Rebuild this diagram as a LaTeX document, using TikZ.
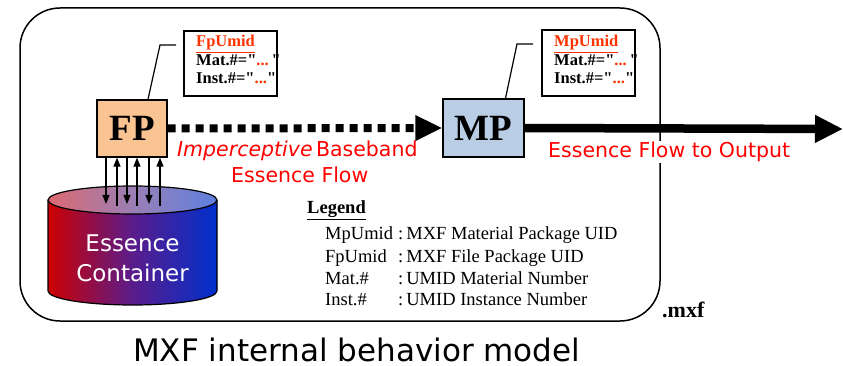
\documentclass[tikz,border=0pt]{standalone}
\usepackage{fontspec}
\setmainfont{Liberation Serif}[Ligatures=TeXOff]
\newfontfamily\labsans{DejaVu Sans}
\usetikzlibrary{arrows.meta}
\definecolor{fpfill}{HTML}{F9C392}
\definecolor{mpfill}{HTML}{B9CDE5}
\definecolor{lblred}{HTML}{FF0000}
\definecolor{umred}{HTML}{FF3300}
\definecolor{cylred}{HTML}{CC0000}
\definecolor{cylmid}{HTML}{5A1C8C}
\definecolor{cylblue}{HTML}{0030CC}
\definecolor{topred}{HTML}{DD6A72}
\definecolor{topmid}{HTML}{9A7FB5}
\definecolor{topblue}{HTML}{5F80E0}
\tikzset{
  pkg/.style={draw, line width=1.3pt, minimum width=#1, inner sep=0pt, font=\fontsize{37}{37}\bfseries},
  umid/.style={draw, line width=1.2pt, inner sep=0pt},
  umtext/.style={anchor=base west, inner sep=0pt, font=\fontsize{16.5}{18}\bfseries},
  redlbl/.style={anchor=base west, inner sep=1pt, text=lblred, font=\labsans\fontsize{20.5}{24}\selectfont},
  legtext/.style={anchor=base west, inner sep=0pt, font=\fontsize{18.5}{20}\selectfont},
  callout/.style={line width=1.2pt},
  io/.style={line width=1.2pt, -{Triangle[length=9pt,width=7pt]}},
}
\begin{document}
\begin{tikzpicture}[x=1pt,y=-1pt]
\useasboundingbox (0,0) rectangle (843,366);
% outer .mxf container
\draw[line width=1.5pt, rounded corners=40pt] (20,8) rectangle (660,321);

% FP and MP
\node[pkg=70pt, minimum height=57pt, fill=fpfill] (fp) at (132,128.5) {FP};
\node[pkg=81pt, minimum height=58pt, fill=mpfill] (mp) at (483.5,128) {MP};

% umid boxes
\node[umid, minimum width=93pt, minimum height=65pt] (fpu) at (230.5,63.5) {};
\node[umtext] (fpu1) at (196,47) {\textcolor{umred}{\underline{FpUmid}}};
\node[umtext] (fpu2) at (196,66) {Mat.\#="\textcolor{umred}{...}\,"};
\node[umtext] (fpu3) at (196,84) {Inst.\#="\textcolor{umred}{...}"};
\node[umid, minimum width=93pt, minimum height=66pt] (mpu) at (588.5,63) {};
\node[umtext] (mpu1) at (554,47) {\textcolor{umred}{\underline{MpUmid}}};
\node[umtext] (mpu2) at (554,66) {Mat.\#="\textcolor{umred}{...}\,"};
\node[umtext] (mpu3) at (554,84) {Inst.\#="\textcolor{umred}{...}"};

% callouts
\coordinate (fpc) at (176,45);
\coordinate (mpc) at (533,44);
\draw[callout] (fp.north) ++(16,0) -- (160,45) -- (fpc);
\draw[callout] (mp.north) ++(22,0) -- (517,44) -- (mpc);

% red labels
\node[redlbl, fill=white] (eflow) at (547,158) {Essence Flow to Output};
\node[redlbl] (imp) at (176,157) {\textit{Imperceptive}\,Baseband};
\node[redlbl] (ess) at (230,183) {Essence Flow};

% dotted flow arrow
\draw[line width=8pt, dash pattern=on 8pt off 6pt, -{Triangle[length=27pt,width=24pt]}] (fp.east) -- (mp.west);
% output arrow
\coordinate (out) at (843,129);
\draw[line width=8.5pt, -{Triangle[length=28pt,width=26pt]}] (mp.east) -- (out);

% cylinder
\shade[left color=cylred, right color=cylblue, middle color=cylmid]
  (48,200) -- (48,291) arc[start angle=180, end angle=0, x radius=84.5, y radius=14] -- (217,200) -- cycle;
\draw[line width=1.2pt] (48,200) -- (48,291) arc[start angle=180, end angle=0, x radius=84.5, y radius=14] -- (217,200);
\shade[left color=topred, right color=topblue, middle color=topmid] (132.5,200) ellipse[x radius=84.5, y radius=14];
\draw[line width=1.2pt] (132.5,200) ellipse[x radius=84.5, y radius=14];
\node[text=white, align=center, inner sep=0pt, font=\labsans\fontsize{23}{30}\selectfont] (ec) at (132.5,258) {Essence\\Container};

% io arrows
\coordinate (c1) at (106,204);
\coordinate (c2) at (117,206);
\coordinate (c3) at (127,204);
\coordinate (c4) at (137,206);
\coordinate (c5) at (149,204);
\coordinate (c6) at (160,206);
\draw[io] (fp.south -| c1) -- (c1);
\draw[io] (c2) -- (fp.south -| c2);
\draw[io] (fp.south -| c3) -- (c3);
\draw[io] (c4) -- (fp.south -| c4);
\draw[io] (fp.south -| c5) -- (c5);
\draw[io] (c6) -- (fp.south -| c6);

% legend
\node[legtext, font=\fontsize{18.5}{20}\bfseries] (leg) at (307,214) {\underline{Legend}};
\node[legtext] (l1a) at (325,240) {MpUmid};
\node[legtext] (l1b) at (398,240) {:\hspace{3pt}MXF Material Package UID};
\node[legtext] (l2a) at (325,262) {FpUmid};
\node[legtext] (l2b) at (398,262) {:\hspace{3pt}MXF File Package UID};
\node[legtext] (l3a) at (325,284) {Mat.\#};
\node[legtext] (l3b) at (398,284) {:\hspace{3pt}UMID Material Number};
\node[legtext] (l4a) at (325,305) {Inst.\#};
\node[legtext] (l4b) at (398,305) {:\hspace{3pt}UMID Instance Number};

\node[anchor=base west, inner sep=0pt, font=\fontsize{22}{24}\bfseries] (mxf) at (662,317) {.mxf};

% title
\node[anchor=base west, inner sep=0pt, font=\labsans\fontsize{31}{34}\selectfont] (title) at (133,361) {MXF internal behavior model};
\end{tikzpicture}
\end{document}
